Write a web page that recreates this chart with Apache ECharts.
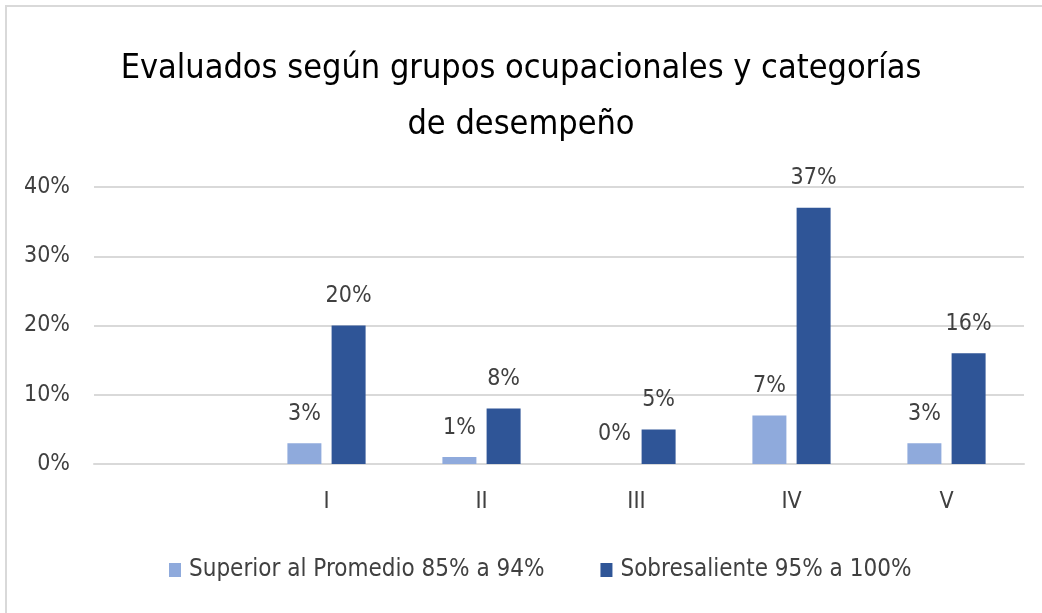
<!DOCTYPE html>
<html><head><meta charset="utf-8">
<script src="https://cdn.jsdelivr.net/npm/echarts@6/dist/echarts.min.js"></script>
<style>html,body{margin:0;padding:0;background:#fff}#c{width:1042px;height:613px}</style>
</head><body><div id="c"></div>
<script>
const categories = ['', 'I', 'II', 'III', 'IV', 'V'];
const seriesNames = ['Superior al Promedio 85% a 94%', 'Sobresaliente 95% a 100%'];
const superior = [null, 3, 1, 0, 7, 3];
const sobresaliente = [null, 20, 8, 5, 37, 16];
const yTicks = [0, 10, 20, 30, 40];

const FONT = '"Liberation Sans Narrow","DejaVu Sans Condensed","Roboto",sans-serif';
const chart = echarts.init(document.getElementById('c'), null, {renderer: 'canvas'});
chart.setOption({
  animation: false,
  backgroundColor: '#fff',
  title: {
    text: 'Evaluados según grupos ocupacionales y categorías\nde desempeño',
    left: 'center', top: 36,
    textStyle: {fontFamily: FONT, fontSize: 34, fontWeight: 'normal', color: '#000', lineHeight: 56}
  },
  legend: {
    bottom: 26, left: 164, itemWidth: 12, itemHeight: 14, itemGap: 56,
    icon: 'rect',
    textStyle: {fontFamily: FONT, fontSize: 24, color: '#404040', padding: [0, 0, 0, 3]},
    data: seriesNames
  },
  grid: {left: 94, right: 18, top: 187, bottom: 149, containLabel: false},
  xAxis: {
    type: 'category', data: categories,
    axisLine: {lineStyle: {color: '#d9d9d9', width: 2}},
    axisTick: {show: false},
    axisLabel: {fontFamily: FONT, fontSize: 23, color: '#404040', margin: 27}
  },
  yAxis: {
    type: 'value', min: 0, max: 40, interval: 10,
    axisLine: {show: false}, axisTick: {show: false},
    splitLine: {lineStyle: {color: '#d9d9d9', width: 2}},
    axisLabel: {fontFamily: FONT, fontSize: 23, color: '#404040', margin: 24, formatter: v => yTicks.includes(v) ? v + '%' : ''}
  },
  series: [
    {name: seriesNames[0], type: 'bar', data: superior, barWidth: 34, barGap: '30%',
     itemStyle: {color: '#8FAADC'},
     label: {show: true, position: 'top', distance: 18, fontFamily: FONT, fontSize: 23, color: '#404040', formatter: p => p.value == null ? '' : p.value + '%'}},
    {name: seriesNames[1], type: 'bar', data: sobresaliente, barWidth: 34,
     itemStyle: {color: '#2F5597'},
     label: {show: true, position: 'top', distance: 18, fontFamily: FONT, fontSize: 23, color: '#404040', formatter: p => p.value == null ? '' : p.value + '%'}}
  ],
  graphic: [
    {type: 'line', shape: {x1: 5, y1: 6, x2: 1042, y2: 6}, style: {stroke: '#d9d9d9', lineWidth: 2}},
    {type: 'line', shape: {x1: 6, y1: 5, x2: 6, y2: 613}, style: {stroke: '#d9d9d9', lineWidth: 2}}
  ]
});
</script></body></html>
